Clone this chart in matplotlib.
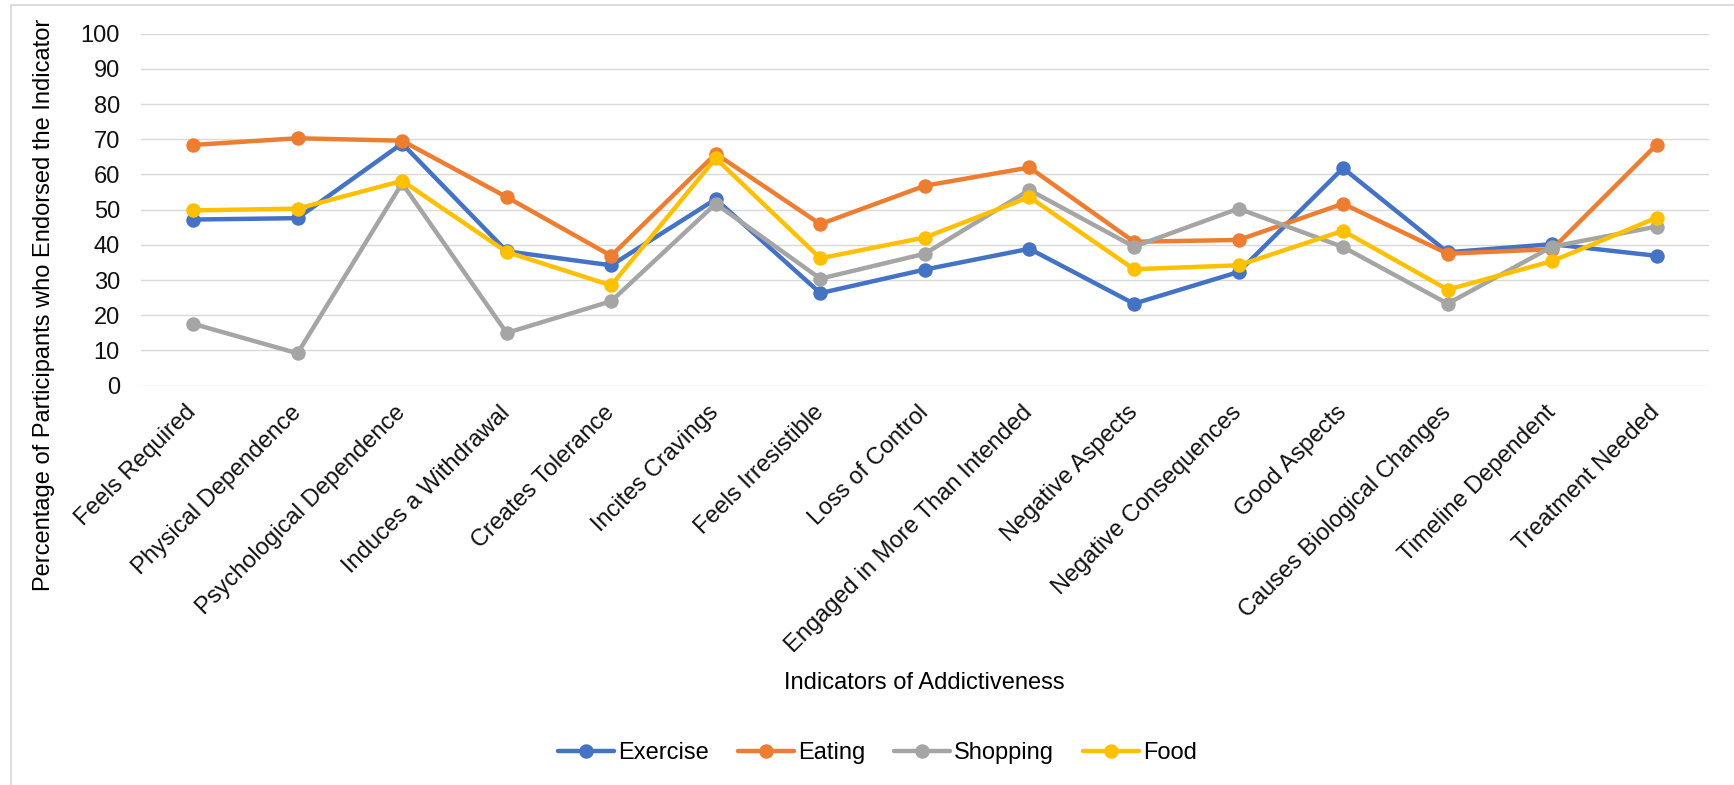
import matplotlib.pyplot as plt
from matplotlib.patches import Rectangle

plt.rcParams['font.family'] = ['Liberation Sans', 'DejaVu Sans']

# Indicators and the share of participants endorsing each one (%)
indicators = ["Feels Required", "Physical Dependence", "Psychological Dependence",
              "Induces a Withdrawal", "Creates Tolerance", "Incites Cravings",
              "Feels Irresistible", "Loss of Control", "Engaged in More Than Intended",
              "Negative Aspects", "Negative Consequences", "Good Aspects",
              "Causes Biological Changes", "Timeline Dependent", "Treatment Needed"]

exercise = [47.2, 47.6, 68.8, 38.2, 34.2, 53.0, 26.3, 33.0, 38.9, 23.3, 32.3, 61.8, 37.9, 40.2, 36.9]
eating = [68.4, 70.3, 69.6, 53.6, 36.9, 65.9, 45.9, 56.8, 62.0, 40.9, 41.4, 51.7, 37.5, 38.8, 68.5]
shopping = [17.6, 9.2, 57.5, 15.0, 24.0, 51.7, 30.4, 37.5, 55.6, 39.5, 50.3, 39.4, 23.3, 39.5, 45.2]
food = [49.8, 50.3, 58.2, 38.0, 28.5, 64.6, 36.2, 42.1, 53.6, 33.1, 34.2, 44.0, 27.3, 35.4, 47.7]

series = [("Exercise", exercise, "#4472C4"),
          ("Eating", eating, "#ED7D31"),
          ("Shopping", shopping, "#A5A5A5"),
          ("Food", food, "#FFC000")]

W, H = 1734, 785
fig = plt.figure(figsize=(W / 100, H / 100), dpi=100)
ax = fig.add_axes([140.7 / W, 1 - 385.7 / H, (1709 - 140.7) / W, (385.7 - 33.7) / H])

# light frame round the chart area
fig.patches.append(Rectangle((10.5 / W, -0.1), 1.2, 1 - 5 / H + 0.1,
                             transform=fig.transFigure, fill=False,
                             edgecolor="#D9D9D9", linewidth=1.3))

x = list(range(len(indicators)))
for name, vals, color in series:
    ax.plot(x, vals, color=color, linewidth=3.2, marker="o", markersize=9.4,
            label=name, solid_capstyle="round", solid_joinstyle="round")

ax.set_xlim(-0.5, len(indicators) - 0.5)
ax.set_ylim(0, 100)
ax.set_yticks(range(0, 101, 10))
ax.grid(axis="y", color="#D9D9D9", linewidth=1.0)
ax.set_axisbelow(True)
for s in ax.spines.values():
    s.set_visible(False)
ax.tick_params(axis="both", length=0, labelsize=17, colors="#111111")
ax.tick_params(axis="y", pad=15)

ax.set_xticks(x)
ax.set_xticklabels(indicators, rotation=45, ha="right", va="center",
                   rotation_mode="anchor")
ax.tick_params(axis="x", pad=17)

fig.text(44 / W, 1 - 305 / H, "Percentage of Participants who Endorsed the Indicator",
         rotation=90, ha="center", va="center", fontsize=17)
fig.text(924.5 / W, 1 - 683 / H, "Indicators of Addictiveness",
         ha="center", va="center", fontsize=17)

fig.legend(loc="center", bbox_to_anchor=(877.5 / W, 1 - 753 / H), ncol=4,
           frameon=False, fontsize=17, handlelength=2.37, handletextpad=0.17,
           columnspacing=1.23)

fig.savefig("out.png", dpi=100, facecolor="white")
